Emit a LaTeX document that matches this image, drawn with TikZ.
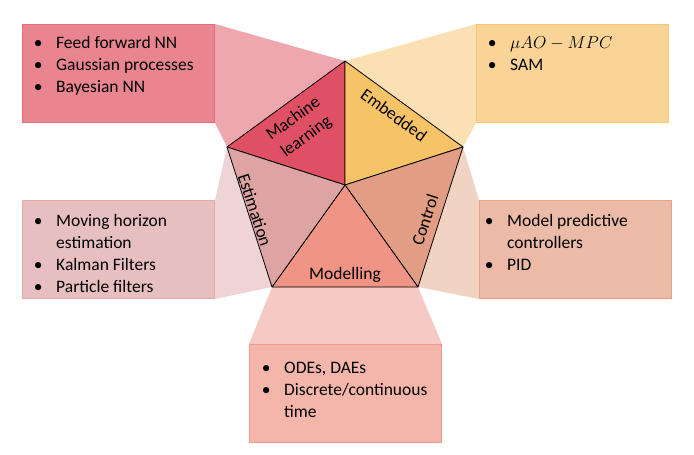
\documentclass[tikz,border=0pt]{standalone}
\usepackage{fontspec}
\setmainfont{Carlito}
\usepackage{amsmath}
\usetikzlibrary{positioning, calc, backgrounds}

\definecolor{mlface}{HTML}{E05065}
\definecolor{emface}{HTML}{F6C366}
\definecolor{coface}{HTML}{E19E84}
\definecolor{moface}{HTML}{F09485}
\definecolor{esface}{HTML}{DEA4A4}
\definecolor{mlbox}{HTML}{E8858F}
\definecolor{mlline}{HTML}{E46C7A}
\definecolor{mltrap}{HTML}{EEA6AF}
\definecolor{embox}{HTML}{F9D496}
\definecolor{emline}{HTML}{F7C873}
\definecolor{emtrap}{HTML}{FAE0B3}
\definecolor{esbox}{HTML}{E8BFC0}
\definecolor{esline}{HTML}{E4AAAA}
\definecolor{estrap}{HTML}{EED4D5}
\definecolor{cobox}{HTML}{EBBBA8}
\definecolor{coline}{HTML}{E9A285}
\definecolor{cotrap}{HTML}{F1D3C4}
\definecolor{mobox}{HTML}{F4B6AA}
\definecolor{moline}{HTML}{F09A8A}
\definecolor{motrap}{HTML}{F6CAC4}

\newcommand{\bul}{\makebox[36pt]{\textbullet}}

\begin{document}
\begin{tikzpicture}[x=1pt, y=-1pt,
    box/.style={draw, line width=1pt, anchor=north west, minimum width=192pt, minimum height=98pt, inner sep=0pt},
    list/.style={anchor=base west, inner sep=0pt, font=\fontsize{17.5}{22}\selectfont},
    facetext/.style={inner sep=0pt, align=center, font=\fontsize{17.5}{22}\selectfont},
    tri/.style={draw=black, line width=0.8pt, line join=round}]
    \useasboundingbox (0,0) rectangle (694,455);
    % pentagon corners and centre
    \coordinate (T) at (345,61);
    \coordinate (R) at (463,147);
    \coordinate (BR) at (418,287);
    \coordinate (BL) at (272,287);
    \coordinate (L) at (227,147);
    \coordinate (C) at (345,185);
    % boxes
    \node[box, fill=mlbox, draw=mlline] (mlb) at (22,24) {};
    \node[box, fill=embox, draw=emline] (emb) at (476,24) {};
    \node[box, fill=esbox, draw=esline] (esb) at (22,200) {};
    \node[box, fill=cobox, draw=coline] (cob) at (479,200) {};
    \node[box, fill=mobox, draw=moline] (mob) at (249,344) {};
    % light bands from the pentagon to the boxes
    \begin{scope}[on background layer]
        \fill[mltrap] (mlb.north east) -- (T) -- (L) -- (mlb.south east) -- cycle;
        \fill[emtrap] (emb.north west) -- (T) -- (R) -- (emb.south west) -- cycle;
        \fill[estrap] (esb.north east) -- (L) -- (BL) -- (esb.south east) -- cycle;
        \fill[cotrap] (cob.north west) -- (R) -- (BR) -- (cob.south west) -- cycle;
        \fill[motrap] (mob.north west) -- (BL) -- (BR) -- (mob.north east) -- cycle;
    \end{scope}
    % the five faces
    \filldraw[tri, fill=mlface] (C) -- (L) -- (T) -- cycle;
    \filldraw[tri, fill=emface] (C) -- (T) -- (R) -- cycle;
    \filldraw[tri, fill=coface] (C) -- (R) -- (BR) -- cycle;
    \filldraw[tri, fill=moface] (C) -- (BR) -- (BL) -- cycle;
    \filldraw[tri, fill=esface] (C) -- (BL) -- (L) -- cycle;
    \node[facetext, rotate=36] (mlt) at (300,128) {Machine\\learning};
    \node[facetext, rotate=-36] (emt) at (394,115) {Embedded};
    \node[facetext, rotate=72] (cot) at (425,220) {Control};
    \node[facetext, rotate=-72] (est) at (255,210) {Estimation};
    \node[facetext] (mot) at (345,275) {Modelling};
    % lists
    \node[list] (mll) at (20,48.5) {\begin{tabular}[t]{@{}l@{}}
        \bul Feed forward NN\\ \bul Gaussian processes\\ \bul Bayesian NN
    \end{tabular}};
    \node[list] (eml) at (474,48.5) {\begin{tabular}[t]{@{}l@{}}
        \bul $\mu AO-MPC$\\ \bul SAM
    \end{tabular}};
    \node[list] (esl) at (20,226) {\begin{tabular}[t]{@{}l@{}}
        \bul Moving horizon\\ \hspace*{36pt}estimation\\ \bul Kalman Filters\\ \bul Particle filters
    \end{tabular}};
    \node[list] (col) at (471,226) {\begin{tabular}[t]{@{}l@{}}
        \bul Model predictive\\ \hspace*{36pt}controllers\\ \bul PID
    \end{tabular}};
    \node[list] (mol) at (248,373) {\begin{tabular}[t]{@{}l@{}}
        \bul ODEs, DAEs\\ \bul Discrete/continuous\\ \hspace*{36pt}time
    \end{tabular}};
\end{tikzpicture}
\end{document}
